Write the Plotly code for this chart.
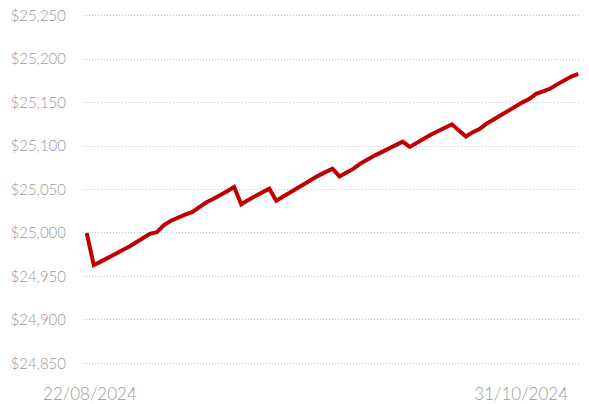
import pandas as pd
import plotly.graph_objects as go

start_date = "2024-08-22"
values = [
    25000, 24963, 24967, 24971, 24975, 24979, 24984, 24989, 24994, 24999,
    25001, 25009, 25014, 25018, 25021, 25024, 25030, 25035, 25039, 25043,
    25048, 25053, 25033, 25038, 25042, 25047, 25051, 25037, 25042, 25047,
    25052, 25057, 25062, 25066, 25070, 25074, 25065, 25069, 25074, 25080,
    25085, 25089, 25093, 25097, 25100, 25105, 25099, 25104, 25109, 25113,
    25117, 25121, 25125, 25118, 25111, 25116, 25120, 25126, 25131, 25135,
    25140, 25145, 25150, 25154, 25160, 25163, 25166, 25171, 25176, 25180,
    25183,
]
dates = pd.date_range(start_date, periods=len(values), freq="D")

tick_labels = ["22/08/2024", "31/10/2024"]
tick_positions = [pd.Timestamp("2024-08-22 11:00"), pd.Timestamp("2024-10-22 21:00")]
y_ticks = [24850, 24900, 24950, 25000, 25050, 25100, 25150, 25200, 25250]
y_tick_labels = ["$" + f"{v:,}" for v in y_ticks]

fig = go.Figure()
fig.add_trace(go.Scatter(
    x=dates, y=values, mode="lines",
    line=dict(color="#c00000", width=4),
    hoverinfo="skip",
))

label_font = "Lato"
fig.update_layout(
    width=589, height=404,
    margin=dict(l=83, r=9, t=7, b=32),
    paper_bgcolor="white", plot_bgcolor="white",
    showlegend=False,
    font=dict(family=label_font, color="#999999", weight=300),
)
fig.update_xaxes(
    range=[pd.Timestamp("2024-08-21 11:20"), pd.Timestamp("2024-10-31 06:00")],
    tickvals=tick_positions, ticktext=tick_labels,
    showgrid=False, zeroline=False, showline=False, ticks="",
    tickfont=dict(family=label_font, size=17, color="#999999", weight=300),
    ticklabelstandoff=10, automargin=False,
)
fig.update_yaxes(
    range=[24840, 25260],
    tickvals=y_ticks, ticktext=y_tick_labels,
    showgrid=True, gridcolor="#c8c8c8", griddash="1px,2px", gridwidth=1,
    zeroline=False, showline=False, ticks="",
    tickfont=dict(family=label_font, size=15, color="#999999", weight=300),
    ticklabelstandoff=16, automargin=False,
)

fig.write_html(
    "out.html",
    config={"displayModeBar": False},
    post_script="document.body.style.margin='0';document.body.style.overflow='hidden';",
)
